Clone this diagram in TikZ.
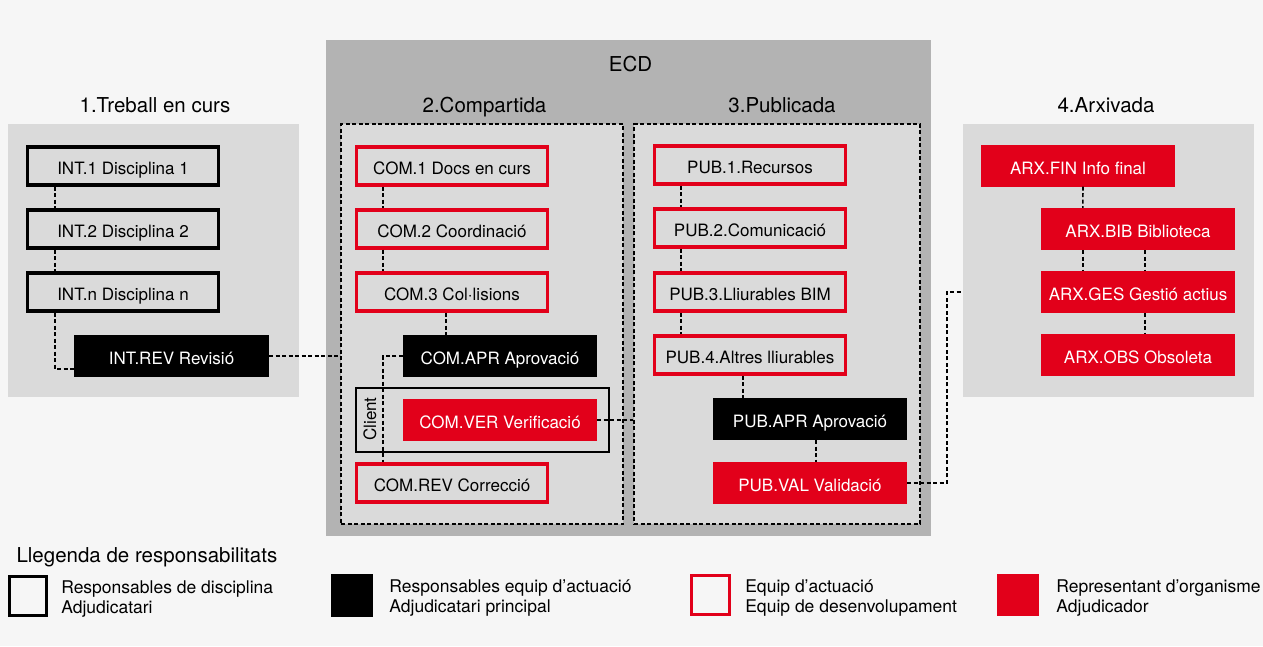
\documentclass[tikz,border=0pt]{standalone}
\usepackage{fontspec}
\setmainfont{TeX Gyre Heros}
\usetikzlibrary{positioning}
\definecolor{ecdred}{RGB}{226,0,26}
\definecolor{pagegrey}{RGB}{246,246,246}
\definecolor{panelgrey}{RGB}{218,218,218}
\definecolor{ecdgrey}{RGB}{179,179,179}

\begin{document}
\begin{tikzpicture}[x=1pt,y=-1pt,font=\fontsize{17}{20}\selectfont,
    box/.style={minimum width=194pt,minimum height=42pt,inner sep=2pt,text height=17pt,text depth=0pt},
    disc/.style={box,draw=black,line width=3.2pt,fill=panelgrey,minimum width=191pt,minimum height=38pt},
    lead/.style={box,fill=black,text=white},
    team/.style={box,draw=ecdred,line width=3.2pt,fill=panelgrey,minimum width=191pt,minimum height=38pt},
    owner/.style={box,fill=ecdred,text=white},
    link/.style={line width=1.6pt,dash pattern=on 4pt off 2.5pt},
    zone/.style={fill=panelgrey,inner sep=0},
    frame/.style={zone,draw=black,line width=1.5pt,dash pattern=on 4pt off 2.5pt},
    head/.style={font=\fontsize{20.5}{24}\selectfont,anchor=base},
    keytext/.style={align=left,inner sep=0,yshift=-3pt,font=\fontsize{17.5}{20}\selectfont}]
  \useasboundingbox (0,0) rectangle (1263,646);
  \fill[pagegrey] (0,0) rectangle (1263,646);

  \node[fill=ecdgrey,inner sep=0,minimum width=605pt,minimum height=496pt] (ecd) at (628.5,288) {};
  \node[zone,minimum width=291pt,minimum height=273pt] (work) at (153.5,260.5) {};
  \node[zone,minimum width=291pt,minimum height=273pt] (arx) at (1108.5,260.5) {};
  \node[frame,minimum width=282pt,minimum height=400pt] (shared) at (482,324) {};
  \node[frame,minimum width=286pt,minimum height=400pt] (pub) at (777,324) {};

  \node[head] (ecdtitle) at (630.5,71) {ECD};
  \node[head] (worktitle) at (155,112) {1.Treball en curs};
  \node[head] (sharedtitle) at (484.5,112) {2.Compartida};
  \node[head] (pubtitle) at (782,112) {3.Publicada};
  \node[head] (arxtitle) at (1106,112) {4.Arxivada};

  \node[disc] (int1) at (123,166) {INT.1 Disciplina 1};
  \node[disc] (int2) at (123,229) {INT.2 Disciplina 2};
  \node[disc] (intn) at (123,292) {INT.n Disciplina n};
  \node[lead,minimum width=195pt] (intrev) at (171.5,356) {INT.REV Revisió};
  \draw[link] ([xshift=29pt]int1.south west) -- ([xshift=29pt]int2.north west);
  \draw[link] ([xshift=29pt]int2.south west) -- ([xshift=29pt]intn.north west);
  \draw[link] ([xshift=29pt]intn.south west) |- ([yshift=-13pt]intrev.west);
  \draw[link] (intrev.east) -- (intrev.east -| shared.west);

  \node[draw=black,line width=1.5pt,inner sep=0,minimum width=253pt,minimum height=64pt] (clientbox) at (482.5,420) {};
  \node[rotate=90,inner sep=0] (client) at (370,419) {Client};
  \node[team] (com1) at (452,166) {COM.1 Docs en curs};
  \node[team] (com2) at (452,229) {COM.2 Coordinació};
  \node[team] (com3) at (452,292) {COM.3 Col·lisions};
  \node[lead] (comapr) at (500,356) {COM.APR Aprovació};
  \node[owner] (comver) at (500,420) {COM.VER Verificació};
  \node[team] (comrev) at (452,483) {COM.REV Correcció};
  \draw[link] ([xshift=28pt]com1.south west) -- ([xshift=28pt]com2.north west);
  \draw[link] ([xshift=28pt]com2.south west) -- ([xshift=28pt]com3.north west);
  \draw[link] ([xshift=-6pt]com3.south) -- ([xshift=-6pt]com3.south |- comapr.north);
  \draw[link] (comapr.west) -| ([xshift=28pt]comrev.north west);
  \draw[link] (comver.east) -- (comver.east -| pub.west);

  \node[team] (pub1) at (750,165) {PUB.1.Recursos};
  \node[team] (pub2) at (750,228) {PUB.2.Comunicació};
  \node[team] (pub3) at (750,292) {PUB.3.Lliurables BIM};
  \node[team] (pub4) at (750,355) {PUB.4.Altres lliurables};
  \node[lead] (pubapr) at (810,419) {PUB.APR Aprovació};
  \node[owner] (pubval) at (810,483) {PUB.VAL Validació};
  \draw[link] ([xshift=28pt]pub1.south west) -- ([xshift=28pt]pub2.north west);
  \draw[link] ([xshift=28pt]pub2.south west) -- ([xshift=28pt]pub3.north west);
  \draw[link] ([xshift=28pt]pub3.south west) -- ([xshift=28pt]pub4.north west);
  \draw[link] ([xshift=-7pt]pub4.south) -- ([xshift=-7pt]pub4.south |- pubapr.north);
  \draw[link] ([xshift=6pt]pubapr.south) -- ([xshift=6pt]pubapr.south |- pubval.north);

  \node[owner] (arxfin) at (1078,165.5) {ARX.FIN Info final};
  \node[owner] (arxbib) at (1138,229) {ARX.BIB Biblioteca};
  \node[owner] (arxges) at (1138,292) {ARX.GES Gestió actius};
  \node[owner] (arxobs) at (1138,355) {ARX.OBS Obsoleta};
  \draw[link] ([xshift=5pt]arxfin.south) -- ([xshift=42pt]arxbib.north west);
  \draw[link] ([xshift=42pt]arxbib.south west) -- ([xshift=42pt]arxges.north west);
  \draw[link] ([xshift=7pt]arxbib.south) -- ([xshift=7pt]arxges.north);
  \draw[link] ([xshift=7pt]arxges.south) -- ([xshift=7pt]arxobs.north);
  \coordinate (valbend) at (947,292);
  \draw[link] (pubval.east) -| (valbend) -- (valbend -| arx.west);

  \node[head,anchor=base west] (legtitle) at (13,562) {Llegenda de responsabilitats};
  \node[disc,fill=pagegrey,minimum width=37pt,minimum height=39pt] (keydisc) at (28,596) {};
  \node[lead,minimum width=42pt,minimum height=43pt] (keylead) at (352,595.5) {};
  \node[team,fill=pagegrey,minimum width=38pt,minimum height=39pt] (keyteam) at (710.5,595) {};
  \node[owner,minimum width=42pt,minimum height=42pt] (keyowner) at (1018,595) {};
  \node[keytext,right=13pt of keydisc] (txtdisc) {Responsables de disciplina\\Adjudicatari};
  \node[keytext,right=16pt of keylead] (txtlead) {Responsables equip d’actuació\\Adjudicatari principal};
  \node[keytext,right=14pt of keyteam] (txtteam) {Equip d’actuació\\Equip de desenvolupament};
  \node[keytext,right=17pt of keyowner] (txtowner) {Representant d’organisme\\Adjudicador};
\end{tikzpicture}
\end{document}
